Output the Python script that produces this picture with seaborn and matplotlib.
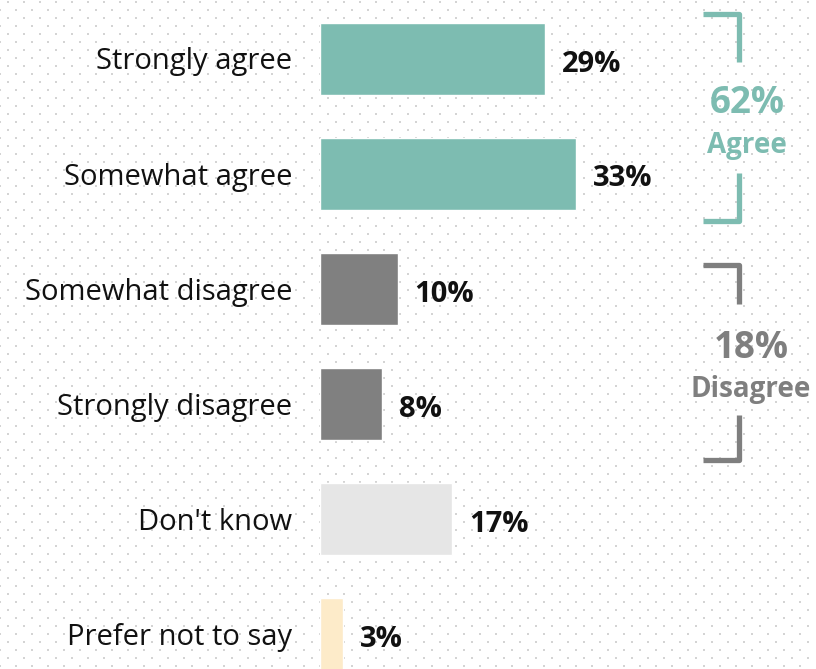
import numpy as np
import pandas as pd
import matplotlib
matplotlib.use("Agg")
import matplotlib.pyplot as plt
import seaborn as sns

# Survey responses
categories = ["Strongly agree", "Somewhat agree", "Somewhat disagree",
              "Strongly disagree", "Don't know", "Prefer not to say"]
shares = [29, 33, 10, 8, 17, 3]
bar_colors = ["#7dbcb1", "#7dbcb1", "#808080", "#808080", "#e6e6e6", "#fdebc9"]

# Grouped totals shown beside the brackets
agree_total = 62
disagree_total = 18
group_labels = ["Agree", "Disagree"]
group_colors = ["#7dbcb1", "#7f7f7f"]

sns.set_theme(style="white")
plt.rcParams["font.family"] = ["Open Sans", "DejaVu Sans"]

W, H = 816, 669
fig = plt.figure(figsize=(W / 100, H / 100), dpi=100)
fig.patch.set_facecolor("white")

# Dotted background texture
bg = fig.add_axes([0, 0, 1, 1])
bg.set_xlim(0, W)
bg.set_ylim(H, 0)
bg.axis("off")
xs, ys = [], []
for r, y in enumerate(np.arange(2, H, 8)):
    start = 8 if r % 2 == 0 else 0
    for x in np.arange(start, W, 16):
        xs.append(x)
        ys.append(y)
bg.scatter(xs, ys, s=1.6, marker="s", color="#d4d4d4", linewidths=0)

# Bars
px_per_unit = 7.75
x0_px = 320
ax = fig.add_axes([0, 0, 1, 1])
ax.patch.set_alpha(0)
df = pd.DataFrame({"category": categories, "share": shares})
sns.barplot(data=df, x="share", y="category", hue="category",
            palette=bar_colors, orient="h", width=0.63, legend=False,
            saturation=1, ax=ax)
ax.set_xlim(-x0_px / px_per_unit, (W - x0_px) / px_per_unit)
y_top_px, step_px = 59, 115
ax.set_ylim((H - y_top_px) / step_px, -y_top_px / step_px)
ax.axis("off")

for i, (cat, v) in enumerate(zip(categories, shares)):
    ax.text(-28 / px_per_unit, i + 10.5 / step_px, cat, ha="right",
            va="baseline", fontsize=21, color="#111111")
    ax.text(v + 17 / px_per_unit, i + 12.5 / step_px, f"{v}%", ha="left",
            va="baseline", fontsize=21, fontweight="bold", color="#111111")

# Brackets and group totals (pixel space)
def bracket(top, bottom, gap_top, gap_bottom, color):
    kw = dict(color=color, lw=3.8, solid_capstyle="butt", solid_joinstyle="round")
    bg.plot([703, 739, 739], [top, top, gap_top], **kw)
    bg.plot([739, 739, 703], [gap_bottom, bottom, bottom], **kw)

bracket(14, 221, 62, 173, group_colors[0])
bracket(265, 460, 304, 415, group_colors[1])

bg.text(747, 113, f"{agree_total}%", ha="center", va="baseline",
        fontsize=26.5, fontweight="bold", color=group_colors[0])
bg.text(746.5, 153, group_labels[0], ha="center", va="baseline",
        fontsize=20, fontweight="bold", color=group_colors[0])
bg.text(751, 358, f"{disagree_total}%", ha="center", va="baseline",
        fontsize=26.5, fontweight="bold", color=group_colors[1])
bg.text(750.5, 397, group_labels[1], ha="center", va="baseline",
        fontsize=20, fontweight="bold", color=group_colors[1])

fig.savefig("out.png", dpi=100, facecolor="white")
